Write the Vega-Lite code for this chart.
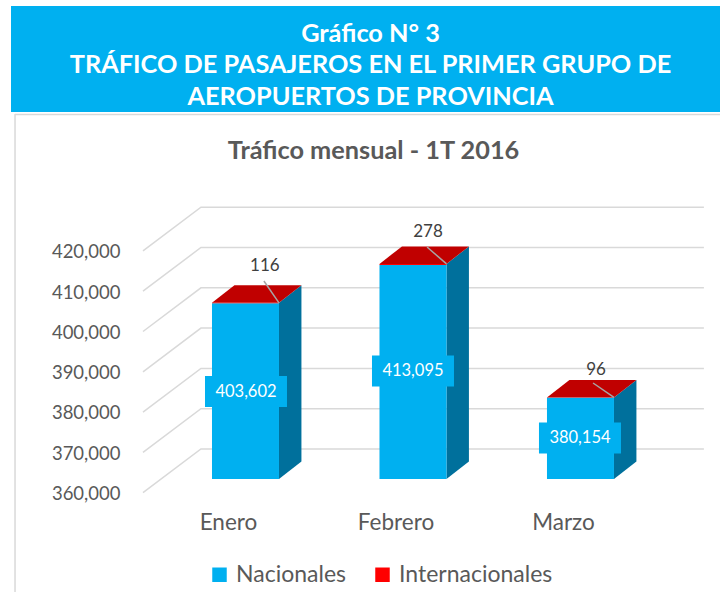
{
"$schema":"https://vega.github.io/schema/vega-lite/v6.json",
"padding":{"left":11,"top":6,"right":0,"bottom":0},
"background":"white",
"spacing":1,
"config":{"view":{"stroke":null},"font":"Lato"},
"datasets":{
"cabecera":[{"linea":1,"texto":"Gráfico N° 3"},{"linea":2,"texto":"TRÁFICO DE PASAJEROS EN EL PRIMER GRUPO DE"},{"linea":3,"texto":"AEROPUERTOS DE PROVINCIA"}],
"borde":[{"x":-0.376,"y":331712,"y2":450571}],
"bordeSuperior":[{"x":-0.376,"x2":3.833,"y":450450}],
"rejilla":[
{"tick":360000,"x":0.388,"y":356600},{"tick":360000,"x":0.734,"y":367444},{"tick":360000,"x":3.737,"y":367444},
{"tick":370000,"x":0.388,"y":366600},{"tick":370000,"x":0.734,"y":377444},{"tick":370000,"x":3.737,"y":377444},
{"tick":380000,"x":0.388,"y":376600},{"tick":380000,"x":0.734,"y":387444},{"tick":380000,"x":3.737,"y":387444},
{"tick":390000,"x":0.388,"y":386600},{"tick":390000,"x":0.734,"y":397444},{"tick":390000,"x":3.737,"y":397444},
{"tick":400000,"x":0.388,"y":396600},{"tick":400000,"x":0.734,"y":407444},{"tick":400000,"x":3.737,"y":407444},
{"tick":410000,"x":0.388,"y":406600},{"tick":410000,"x":0.734,"y":417444},{"tick":410000,"x":3.737,"y":417444},
{"tick":420000,"x":0.388,"y":416600},{"tick":420000,"x":0.734,"y":427444},{"tick":420000,"x":3.737,"y":427444}],
"lateral":[
{"mes":"Enero","x":1.2,"y":360000,"y2":403718},{"mes":"Enero","x":1.334,"y":364340,"y2":408058},
{"mes":"Febrero","x":2.2,"y":360000,"y2":413373},{"mes":"Febrero","x":2.334,"y":364340,"y2":417713},
{"mes":"Marzo","x":3.2,"y":360000,"y2":380250},{"mes":"Marzo","x":3.334,"y":364340,"y2":384590}],
"superior":[
{"mes":"Enero","x":0.8,"y":403718,"y2":403718},{"mes":"Enero","x":0.934,"y":403718,"y2":408058},{"mes":"Enero","x":1.2,"y":403718,"y2":408058},{"mes":"Enero","x":1.334,"y":408058,"y2":408058},
{"mes":"Febrero","x":1.8,"y":413373,"y2":413373},{"mes":"Febrero","x":1.934,"y":413373,"y2":417713},{"mes":"Febrero","x":2.2,"y":413373,"y2":417713},{"mes":"Febrero","x":2.334,"y":417713,"y2":417713},
{"mes":"Marzo","x":2.8,"y":380250,"y2":380250},{"mes":"Marzo","x":2.934,"y":380250,"y2":384590},{"mes":"Marzo","x":3.2,"y":380250,"y2":384590},{"mes":"Marzo","x":3.334,"y":384590,"y2":384590}],
"barras":[
{"mes":"Enero","serie":"Nacionales","x":1,"y":403602,"y2":360000},
{"mes":"Enero","serie":"Internacionales","x":1,"y":403718,"y2":403602},
{"mes":"Febrero","serie":"Nacionales","x":2,"y":413095,"y2":360000},
{"mes":"Febrero","serie":"Internacionales","x":2,"y":413373,"y2":413095},
{"mes":"Marzo","serie":"Nacionales","x":3,"y":380154,"y2":360000},
{"mes":"Marzo","serie":"Internacionales","x":3,"y":380250,"y2":380154}],
"nacionales":[
{"mes":"Enero","valor":403602,"x":1.003,"y":381712},
{"mes":"Febrero","valor":413095,"x":2.0,"y":386799},
{"mes":"Marzo","valor":380154,"x":2.997,"y":370174}],
"guias":[
{"mes":"Enero","x":1.11,"x2":1.2,"y":409132,"y2":403718},
{"mes":"Febrero","x":2.084,"x2":2.2,"y":417568,"y2":413373},
{"mes":"Marzo","x":3.075,"x2":3.2,"y":383821,"y2":380250}],
"internacionales":[
{"mes":"Enero","valor":116,"x":1.116,"y":412854},
{"mes":"Febrero","valor":278,"x":2.09,"y":421290},
{"mes":"Marzo","valor":96,"x":3.093,"y":387047}]
},
"vconcat":[
{"width":709,"height":106,"view":{"fill":"#00B0F0","stroke":null},
"data":{"name":"cabecera"},
"mark":{"type":"text","color":"white","font":"Lato","fontWeight":"bold","fontSize":25.3,"dx":5,"dy":2},
"encoding":{
"y":{"field":"linea","type":"quantitative","axis":null,"scale":{"domain":[0.175,3.54],"reverse":true,"nice":false,"zero":false}},
"text":{"field":"texto"}}
},
{"width":709,"height":479,
"title":{"text":"Tráfico mensual - 1T 2016","frame":"group","anchor":"middle","offset":-51,"dx":8,"font":"Lato","fontWeight":"bold","fontSize":25.3,"color":"#595959"},
"encoding":{
"x":{"field":"x","type":"quantitative","title":null,"scale":{"domain":[-0.4,3.833],"nice":false,"zero":false,"padding":0},
"axis":{"orient":"bottom","offset":-82,"values":[1,2,3],"labelExpr":"['','Enero','Febrero','Marzo'][datum.value]","labelFontSize":22.5,"labelFont":"Lato","labelColor":"#595959","domain":false,"ticks":false,"grid":false,"labelPadding":0,"labelOffset":-17.5}},
"y":{"field":"y","type":"quantitative","title":null,"scale":{"domain":[331712,450571],"nice":false,"zero":false},
"axis":{"offset":-109,"values":[360000,370000,380000,390000,400000,410000,420000],"labelExpr":"format(datum.value, ',')","labelFontSize":18.5,"labelFont":"Lato","labelColor":"#595959","domain":false,"ticks":false,"grid":false,"labelPadding":0,"labelOffset":14.5}}
},
"layer":[
{"data":{"name":"borde"},"mark":{"type":"rule","color":"#D9D9D9","strokeWidth":1.5},"encoding":{"y2":{"field":"y2"}}},
{"data":{"name":"bordeSuperior"},"mark":{"type":"rule","color":"#D9D9D9","strokeWidth":1.5},"encoding":{"x2":{"field":"x2"}}},
{"data":{"name":"rejilla"},"mark":{"type":"line","color":"#D9D9D9","strokeWidth":1.5},"encoding":{"detail":{"field":"tick"}}},
{"data":{"name":"lateral"},"mark":{"type":"area","color":"#00709C"},"encoding":{"y2":{"field":"y2"},"detail":{"field":"mes"}}},
{"data":{"name":"superior"},"mark":{"type":"area","color":"#C00000"},"encoding":{"y2":{"field":"y2"},"detail":{"field":"mes"}}},
{"data":{"name":"barras"},"mark":{"type":"bar","width":67},"encoding":{"y2":{"field":"y2"},
"color":{"field":"serie","type":"nominal","scale":{"domain":["Nacionales","Internacionales"],"range":["#00B0F0","#FF0000"]},
"legend":{"orient":"none","legendX":197,"legendY":557,"direction":"horizontal","title":null,"symbolType":"square","symbolSize":210,"symbolOpacity":1,"labelFontSize":23,"labelFont":"Lato","labelColor":"#595959","columnPadding":25,"labelOffset":5}}}},
{"data":{"name":"nacionales"},"mark":{"type":"rect","width":82,"height":31,"color":"#00B0F0"}},
{"data":{"name":"nacionales"},"mark":{"type":"text","color":"white","fontSize":16.5,"font":"Lato"},"encoding":{"text":{"field":"valor","type":"quantitative","format":","}}},
{"data":{"name":"guias"},"mark":{"type":"rule","color":"#A6A6A6","strokeWidth":1.5},"encoding":{"x2":{"field":"x2"},"y2":{"field":"y2"}}},
{"data":{"name":"internacionales"},"mark":{"type":"text","color":"#404040","fontSize":17,"font":"Lato"},"encoding":{"text":{"field":"valor","type":"quantitative"}}}
]
}
]
}
